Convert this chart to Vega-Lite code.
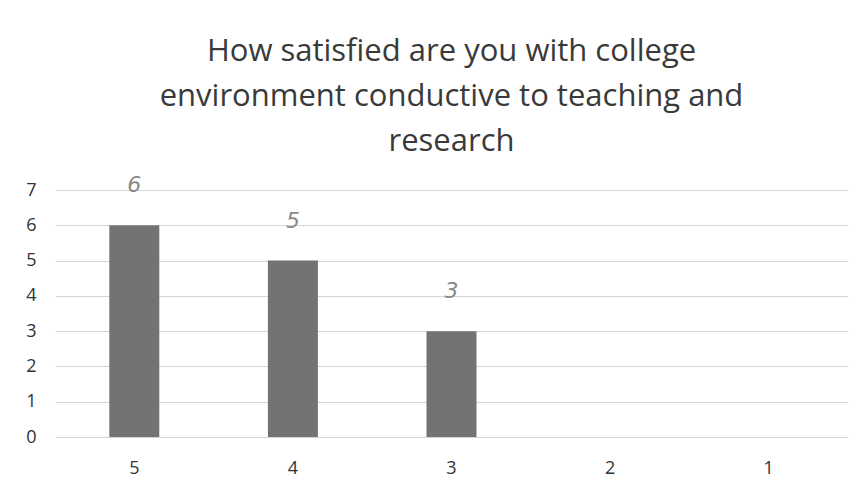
{
  "$schema": "https://vega.github.io/schema/vega-lite/v6.json",
  "width": 793,
  "height": 247,
  "autosize": {"type": "none"},
  "padding": {"left": 55, "top": 190, "right": 19, "bottom": 55},
  "background": "white",
  "title": {
    "text": ["How satisfied are you with college", "environment conductive to teaching and", "research"],
    "font": "Open Sans",
    "fontSize": 31,
    "fontWeight": "normal",
    "color": "#3a3a3a",
    "lineHeight": 45,
    "anchor": "middle",
    "frame": "group",
    "offset": 16
  },
  "data": {
    "values": [
      {"rating": "5", "count": 6, "note": "6"},
      {"rating": "4", "count": 5, "note": "5"},
      {"rating": "3", "count": 3, "note": "3"},
      {"rating": "2", "count": 0, "note": ""},
      {"rating": "1", "count": 0, "note": ""}
    ]
  },
  "encoding": {
    "x": {
      "field": "rating",
      "type": "nominal",
      "sort": null,
      "scale": {"paddingInner": 0, "paddingOuter": 0},
      "axis": {
        "title": null,
        "labelAngle": 0,
        "labelFont": "Open Sans",
        "labelFontSize": 18,
        "labelColor": "#333",
        "labelPadding": 22,
        "ticks": false,
        "domain": false,
        "grid": false
      }
    },
    "y": {
      "field": "count",
      "type": "quantitative",
      "scale": {"domain": [0, 7], "nice": false},
      "axis": {
        "title": null,
        "values": [0, 1, 2, 3, 4, 5, 6, 7],
        "labelOverlap": false,
        "labelFont": "Open Sans",
        "labelFontSize": 18,
        "labelColor": "#333",
        "labelPadding": 19,
        "ticks": false,
        "domain": false,
        "gridColor": "#d4d4d4",
        "gridWidth": 1
      }
    }
  },
  "layer": [
    {"mark": {"type": "bar", "size": 50, "color": "#737373"}},
    {
      "mark": {"type": "text", "dy": -40, "font": "DejaVu Sans", "fontStyle": "italic", "fontSize": 22, "color": "#8a8a8a"},
      "encoding": {"text": {"field": "note"}}
    }
  ],
  "config": {"view": {"stroke": null}}
}
